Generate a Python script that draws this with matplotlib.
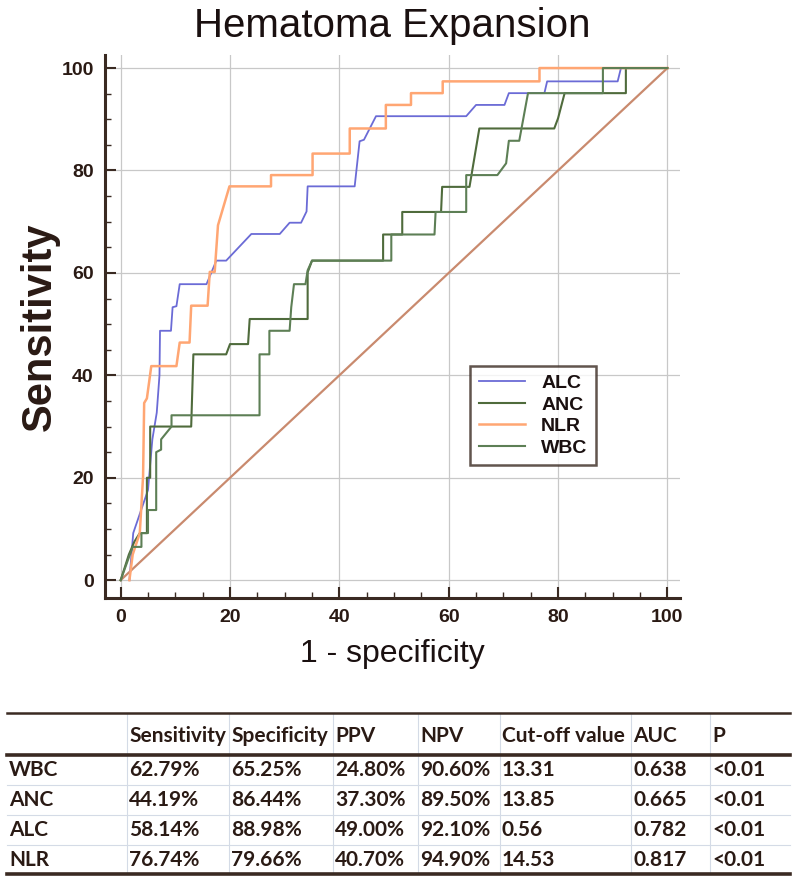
import numpy as np
import matplotlib.pyplot as plt
from matplotlib.ticker import MultipleLocator

# ROC curves (1 - specificity, sensitivity), in %
alc_x = [1.6, 2.3, 5.0, 5.8, 6.6, 7.1, 7.2, 9.2, 9.5, 10.2, 10.8, 15.7, 17.5, 19.3, 23.9, 29.1, 30.9,
         33.0, 34.0, 34.2, 42.8, 43.7, 44.5, 46.7, 63.2, 65.0, 70.2, 71.0, 77.5, 78.0, 90.9, 91.5, 100]
alc_y = [0, 9.2, 17.6, 27.5, 32.7, 40.0, 48.7, 48.7, 53.3, 53.5, 57.8, 57.8, 62.4, 62.4, 67.6, 67.6, 69.8,
         69.8, 72.0, 76.9, 76.9, 85.7, 86.0, 90.6, 90.6, 92.8, 92.8, 95.1, 95.1, 97.4, 97.4, 100, 100]

anc_x = [0, 1.5, 2.5, 3.5, 4.8, 4.8, 5.4, 5.4, 12.9, 13.3, 19.3, 20.0, 23.3, 23.6, 34.2, 34.2, 35.0,
         48.0, 48.0, 51.5, 51.5, 58.6, 58.8, 63.8, 65.6, 79.3, 80.0, 81.2, 92.4, 92.4, 100]
anc_y = [0, 5.0, 7.5, 9.2, 9.2, 20.0, 20.0, 30.0, 30.0, 44.1, 44.1, 46.1, 46.1, 51.0, 51.0, 60.1, 62.4,
         62.4, 67.5, 67.5, 71.9, 71.9, 76.8, 76.8, 88.2, 88.2, 90.2, 95.1, 95.1, 100, 100]

nlr_x = [1.6, 2.2, 3.5, 4.1, 4.3, 4.8, 5.6, 10.2, 10.8, 12.6, 12.9, 15.9, 16.3, 17.2, 17.8, 19.9, 27.5,
         27.5, 35.1, 35.1, 41.9, 41.9, 48.5, 48.5, 53.1, 53.1, 58.9, 58.9, 76.6, 76.6, 100]
nlr_y = [0, 5.0, 9.2, 20.3, 34.6, 35.5, 41.8, 41.8, 46.4, 46.4, 53.6, 53.6, 60.2, 60.2, 69.3, 76.9, 76.9,
         79.1, 79.1, 83.3, 83.3, 88.2, 88.2, 92.8, 92.8, 95.1, 95.1, 97.4, 97.4, 100, 100]

wbc_x = [0, 2.2, 3.8, 3.8, 5.0, 5.0, 6.5, 6.5, 7.4, 7.4, 9.3, 9.3, 25.4, 25.4, 27.2, 27.2, 30.9, 31.2,
         31.7, 33.8, 34.2, 35.0, 49.5, 49.5, 57.4, 57.6, 63.2, 63.2, 68.9, 70.5, 71.0, 72.9, 74.5, 88.2,
         88.2, 100]
wbc_y = [0, 6.5, 6.5, 9.2, 9.2, 13.7, 13.7, 25.0, 25.5, 27.5, 30.0, 32.2, 32.2, 44.1, 44.1, 48.7, 48.7,
         53.3, 57.8, 57.8, 60.5, 62.4, 62.4, 67.5, 67.5, 71.9, 71.9, 79.1, 79.1, 81.4, 85.8, 85.8, 95.1,
         95.1, 100, 100]

# table
col_labels = ["", "Sensitivity", "Specificity", "PPV", "NPV", "Cut-off value", "AUC", "P"]
row_labels = ["WBC", "ANC", "ALC", "NLR"]
sens = ["62.79%", "44.19%", "58.14%", "76.74%"]
spec = ["65.25%", "86.44%", "88.98%", "79.66%"]
ppv = ["24.80%", "37.30%", "49.00%", "40.70%"]
npv = ["90.60%", "89.50%", "92.10%", "94.90%"]
cutoff = ["13.31", "13.85", "0.56", "14.53"]
auc = ["0.638", "0.665", "0.782", "0.817"]
pval = ["<0.01", "<0.01", "<0.01", "<0.01"]

fig = plt.figure(figsize=(8, 8.77), dpi=100)
ax = fig.add_axes([0.131, 0.318, 0.719, 0.619])

ax.plot([0, 100], [0, 100], color='#c98a6e', linewidth=1.6)
ax.plot(alc_x, alc_y, color='#6b6bd6', linewidth=1.3, label='ALC')
ax.plot(anc_x, anc_y, color='#4f6b3c', linewidth=1.5, label='ANC')
ax.plot(nlr_x, nlr_y, color='#ffa673', linewidth=1.8, label='NLR')
ax.plot(wbc_x, wbc_y, color='#5d7f55', linewidth=1.5, label='WBC')

ax.set_xlim(-2.9, 102.3)
ax.set_ylim(-3.5, 102.5)
ax.xaxis.set_major_locator(MultipleLocator(20))
ax.yaxis.set_major_locator(MultipleLocator(20))
ax.xaxis.set_minor_locator(MultipleLocator(5))
ax.yaxis.set_minor_locator(MultipleLocator(5))
ax.grid(True, which='major', color='#c8c8c8', linewidth=0.9)
ax.tick_params(which='major', direction='in', length=8, width=1.5, color='#3a2a22',
               labelsize=14, pad=8)
ax.tick_params(which='minor', direction='in', length=4, width=1.0, color='#3a2a22')
for lab in ax.get_xticklabels() + ax.get_yticklabels():
    lab.set_fontweight('bold')
    lab.set_family('Liberation Sans')
    lab.set_color('#2a1a14')
for s in ['top', 'right']:
    ax.spines[s].set_visible(False)
for s in ['left', 'bottom']:
    ax.spines[s].set_linewidth(2.2)
    ax.spines[s].set_color('#3a2a22')

ax.set_title('Hematoma Expansion', fontsize=29, family='Liberation Sans', pad=13, color='#1a1010')
ax.set_xlabel('1 - specificity', fontsize=23, family='Liberation Sans', labelpad=9, color='#1a1010')
ax.set_ylabel('Sensitivity', fontsize=30, family='Liberation Sans', fontweight='bold',
              labelpad=1, color='#2a1a14')

leg = ax.legend(loc='upper left', bbox_to_anchor=(0.635, 0.428), frameon=True, fancybox=False,
                prop={'family': 'Liberation Sans', 'weight': 'bold', 'size': 14},
                handlelength=2.4, borderpad=0.45, labelspacing=0.2, handletextpad=0.8,
                borderaxespad=0)
leg.get_frame().set_edgecolor('#3a2a22')
leg.get_frame().set_linewidth(1.8)
for t in leg.get_texts():
    t.set_color('#1a1010')

# table drawn in pixel coordinates
tax = fig.add_axes([0, 0, 1, 1], facecolor='none')
tax.set_xlim(0, 800)
tax.set_ylim(877, 0)
tax.axis('off')

col_edges = [7, 127, 229, 333, 418, 500, 631, 710, 790]
row_edges = [713, 755, 785, 815, 845, 874]
for xe in col_edges[1:-1]:
    tax.plot([xe, xe], [row_edges[0], row_edges[-1]], color='#d4dbe6', linewidth=0.8)
for ye in row_edges[2:-1]:
    tax.plot([col_edges[0], col_edges[-1]], [ye, ye], color='#d4dbe6', linewidth=0.8)
tax.plot([col_edges[0], col_edges[-1]], [row_edges[0], row_edges[0]], color='#3a2a22', linewidth=1.8)
tax.plot([col_edges[0], col_edges[-1]], [row_edges[1], row_edges[1]], color='#3a2a22', linewidth=2.6)
tax.plot([col_edges[0], col_edges[-1]], [row_edges[-1], row_edges[-1]], color='#3a2a22', linewidth=2.6)

cell_font = dict(family='Lato', fontweight='bold', fontsize=15, color='#2a1a14',
                 va='center', ha='left')
for j, lab in enumerate(col_labels):
    tax.text(col_edges[j] + 2, (row_edges[0] + row_edges[1]) / 2 + 2, lab, **cell_font)

columns = [row_labels, sens, spec, ppv, npv, cutoff, auc, pval]
for i in range(len(row_labels)):
    yc = (row_edges[i + 1] + row_edges[i + 2]) / 2
    for j, col in enumerate(columns):
        tax.text(col_edges[j] + 2, yc, col[i], **cell_font)

fig.savefig('out.png', dpi=100)
